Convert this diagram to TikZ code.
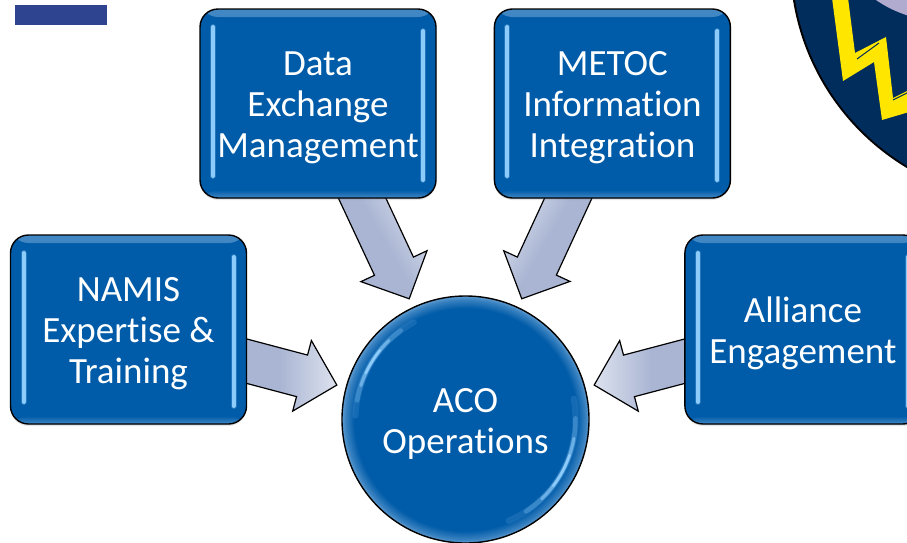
\documentclass[tikz,border=0pt]{standalone}
\usepackage{xcolor}
\usepackage{fontspec}
\setmainfont[Ligatures=NoCommon]{Carlito}
\usepackage{tikz}
\usetikzlibrary{positioning,calc,shadows,backgrounds}

\definecolor{boxblue}{HTML}{005BA8}
\definecolor{rimblue}{HTML}{5F9BD0}
\definecolor{shineblue}{HTML}{8CCBFA}
\definecolor{arrowfill}{HTML}{A9B5D3}
\definecolor{arrowpale}{HTML}{DDE2EE}
\definecolor{barblue}{HTML}{2F4491}
\definecolor{crestnavy}{HTML}{002D5B}
\definecolor{crestyellow}{HTML}{FFE600}
\definecolor{crestlilac}{HTML}{B0ABCF}

\newcommand{\topgap}{\rule{0pt}{33pt}}

\pgfdeclareradialshading{acorim}{\pgfpoint{0bp}{0bp}}{
	color(0bp)=(boxblue); color(22.5bp)=(boxblue);
	color(24.3bp)=(rimblue!60!boxblue); color(25bp)=(rimblue); color(50bp)=(rimblue)}

\begin{document}
\begin{tikzpicture}[
				x=1pt, y=-1pt,
				boxnode/.style={rectangle, rounded corners=18pt, draw=black, line width=1.4pt, fill=boxblue,
					text=white, align=center, inner sep=0pt, minimum width=236pt, minimum height=189pt,
					font=\fontsize{37}{41}\selectfont,
					drop shadow={opacity=0.2, shadow xshift=0pt, shadow yshift=-2pt},
					path picture={
						\shade[top color=rimblue!70!boxblue, bottom color=boxblue] (path picture bounding box.north west) rectangle ([yshift=-8pt]path picture bounding box.north east);
						\shade[top color=boxblue, bottom color=rimblue!70!boxblue] ([yshift=8pt]path picture bounding box.south west) rectangle (path picture bounding box.south east);
						\foreach \wide/\fade in {6/0.25, 4/1}{
							\draw[shineblue, opacity=\fade, line width=\wide pt, line cap=round] ([shift={(13pt,-18pt)}]path picture bounding box.north west) -- ([shift={(13pt,22pt)}]path picture bounding box.south west);
							\draw[shineblue, opacity=\fade, line width=\wide pt, line cap=round] ([shift={(-13pt,-22pt)}]path picture bounding box.north east) -- ([shift={(-13pt,18pt)}]path picture bounding box.south east);
						}
					}},
				roundnode/.style={circle, draw=black, line width=1.4pt, shading=acorim,
					text=white, align=center, inner sep=0pt, minimum size=247pt,
					font=\fontsize{37}{41}\selectfont,
					path picture={
						\foreach \span/\wide/\fade in {30/6/0.15, 22/4.5/0.3, 14/3/0.6, 7/2.5/1}{
							\draw[shineblue, opacity=\fade, line width=\wide pt, line cap=round]
								([shift={(148-\span:110pt)}]path picture bounding box.center) arc[start angle=148-\span, end angle=148+\span, radius=110pt];
							\draw[shineblue, opacity=\fade, line width=\wide pt, line cap=round]
								([shift={(-28-1.3*\span:110pt)}]path picture bounding box.center) arc[start angle=-28-1.3*\span, end angle=-28+1.3*\span, radius=110pt];
						}
					}},
				barnode/.style={rectangle, fill=barblue, minimum width=92pt, minimum height=20pt, inner sep=0pt},
				blockarrow/.style={draw=black, line width=1.2pt, line join=miter, shade, shading=axis,
					left color=arrowfill, right color=arrowpale, middle color=arrowfill, shading angle=#1,
					to path={
						let \p1=($(\tikztotarget)!9pt!(\tikztostart)$), \p2=($(\tikztostart)!-20pt!(\tikztotarget)$) in
						($(\p2)!21.5pt!90:(\p1)$)
						-- ($(\p1)!36pt!(\p2)!21.5pt!-90:(\p2)$)
						-- ($(\p1)!36pt!(\p2)!36.5pt!-90:(\p2)$)
						-- (\p1)
						-- ($(\p1)!36pt!(\p2)!36.5pt!90:(\p2)$)
						-- ($(\p1)!36pt!(\p2)!21.5pt!90:(\p2)$)
						-- ($(\p2)!21.5pt!-90:(\p1)$)
						-- cycle}},
				node distance = 57pt,
				]
				\useasboundingbox (0,0) rectangle (907,542);

				%Crest
				\begin{scope}
					\clip (0,0) rectangle (907,542);
					\fill[black] (1030,-38) circle (240);
					\fill[crestnavy] (1030,-38) circle (238);
					\fill[crestlilac] (873,-2) to[bend right=8] (909,16) -- (909,-2) -- cycle;
					\fill[crestyellow] (832,-2) -- (848,-2) -- (855,53) -- (886,37) -- (893,98) -- (909,90) -- (909,112) -- (882,120) -- (874,62) -- (843,81) -- cycle;
					\draw[crestnavy, line width=1pt] (857,59) -- (879,43);
					\draw[crestnavy, line width=1pt] (893,100) -- (909,92);
				\end{scope}

				%Nodes
				\node[barnode](bar) at (61,15){};
				\node[roundnode](aco) at (465.5,419.5){\topgap ACO\\Operations};
				\node[boxnode](data) at (318,103.5){\topgap Data\\Exchange\\Management};
				\node[boxnode](metoc)[right=of data]{\topgap METOC\\Information\\Integration};
				\node[boxnode](namis) at (128.5,329.5){\topgap NAMIS\\Expertise \&\\Training};
				\node[boxnode](alliance)[right=437pt of namis]{\topgap Alliance\\Engagement};

				%Lines
				\begin{pgfonlayer}{background}
				\draw[blockarrow=120] (data.-65) to (aco.115);
				\draw[blockarrow=-120] (metoc.-115) to (aco.65);
				\draw[blockarrow=90] (namis.-15) to (aco.165);
				\draw[blockarrow=-90] (alliance.195) to (aco.15);
				\end{pgfonlayer}

			\end{tikzpicture}
\end{document}
